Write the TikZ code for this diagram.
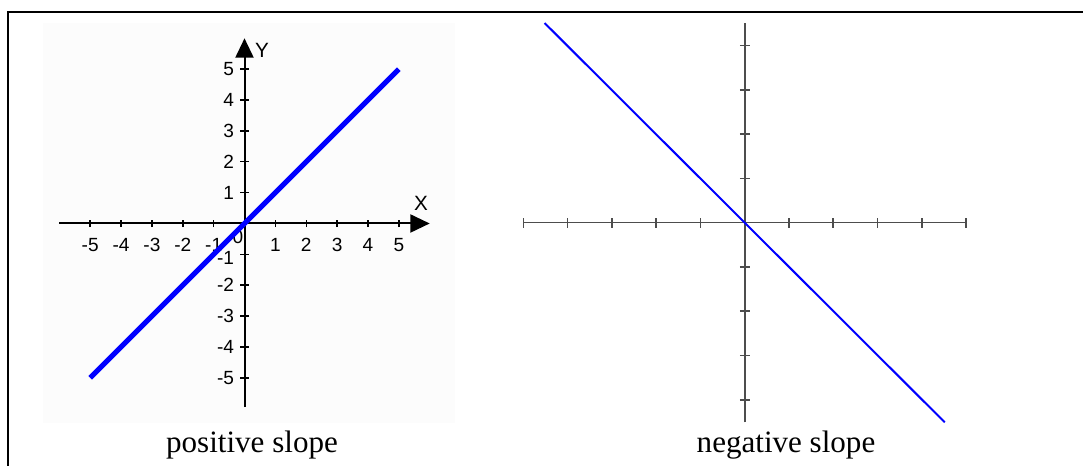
\documentclass[tikz,border=0pt]{standalone}
\usepackage{fontspec}
\setmainfont{Liberation Serif}
\setsansfont{Liberation Sans}
\usetikzlibrary{arrows.meta}
\definecolor{lineblue}{HTML}{0000FF}
\definecolor{axisgrey}{HTML}{4D4D4D}
\definecolor{panel}{HTML}{FCFCFC}
\tikzset{frame/.style={line width=1.6pt,draw=black},
  axisL/.style={line width=1.5pt,draw=black},
  arrL/.style={-{Triangle[length=14.5pt,width=13.5pt]}},
  tickL/.style={line width=1.1pt,draw=black},
  axisR/.style={line width=1.2pt,draw=axisgrey},
  numlab/.style={font=\sffamily\fontsize{14.3}{16}\selectfont,inner sep=0pt},
  axlab/.style={font=\sffamily\fontsize{15.5}{18}\selectfont,inner sep=0pt},
  caption/.style={font=\fontsize{23.3}{28}\selectfont,anchor=base,inner sep=0pt}}

\begin{document}
\begin{tikzpicture}[x=0.75pt,y=0.75pt]
\useasboundingbox (0,0) rectangle (1083,466);
\fill[panel] (43,43) rectangle (455,443);
\draw[frame] (8.3,0) |- (1083,453.7);
% positive slope
\begin{scope}[shift={(244.5,242.5)},x=23.15pt,y=23.15pt]
\draw[axisL,arrL] (-6,0) -- (6,0);
\draw[axisL,arrL] (0,-5.95) -- (0,6);
\foreach \i in {-5,-4,-3,-2,-1,1,2,3,4,5} {
  \draw[tickL] (\i,-0.12) -- (\i,0.12);
  \draw[tickL] (-0.13,\i) -- (0.13,\i);
  \node[numlab] (xt\i) at (\i,-0.7) {\i};
}
\foreach \i in {-5,-4,-3,-2,2,3,4,5}
  \node[numlab,anchor=east] (yt\i) at (-0.33,\i) {\i};
\node[numlab,anchor=east] (ytm1) at (-0.33,-1.12) {-1};
\node[numlab,anchor=east] (ytp1) at (-0.33,1) {1};
\node[numlab] (zero) at (-0.21,-0.44) {0};
\node[axlab] (xlab) at (5.72,0.66) {X};
\node[axlab] (ylab) at (0.57,5.62) {Y};
\draw[lineblue,line width=3.75pt] (-5,-5) -- (5,5);
\end{scope}
% negative slope
\begin{scope}[shift={(744.7,243.3)},x=33.2pt,y=33.2pt]
\draw[axisR] (-5,0) -- (5,0);
\draw[axisR] (0,-4.51) -- (0,4.51);
\foreach \i in {-5,...,5}
  \draw[axisR] (\i,-0.11) -- (\i,0.11);
\foreach \i in {-4,-3,-2,-1,1,2,3,4}
  \draw[axisR] (-0.11,\i) -- (0.11,\i);
\draw[lineblue,line width=1.5pt] (-4.52,4.51) -- (4.52,-4.51);
\end{scope}
\node[caption] (poscap) at (252,13) {positive slope};
\node[caption] (negcap) at (786,13) {negative slope};
\end{tikzpicture}
\end{document}
